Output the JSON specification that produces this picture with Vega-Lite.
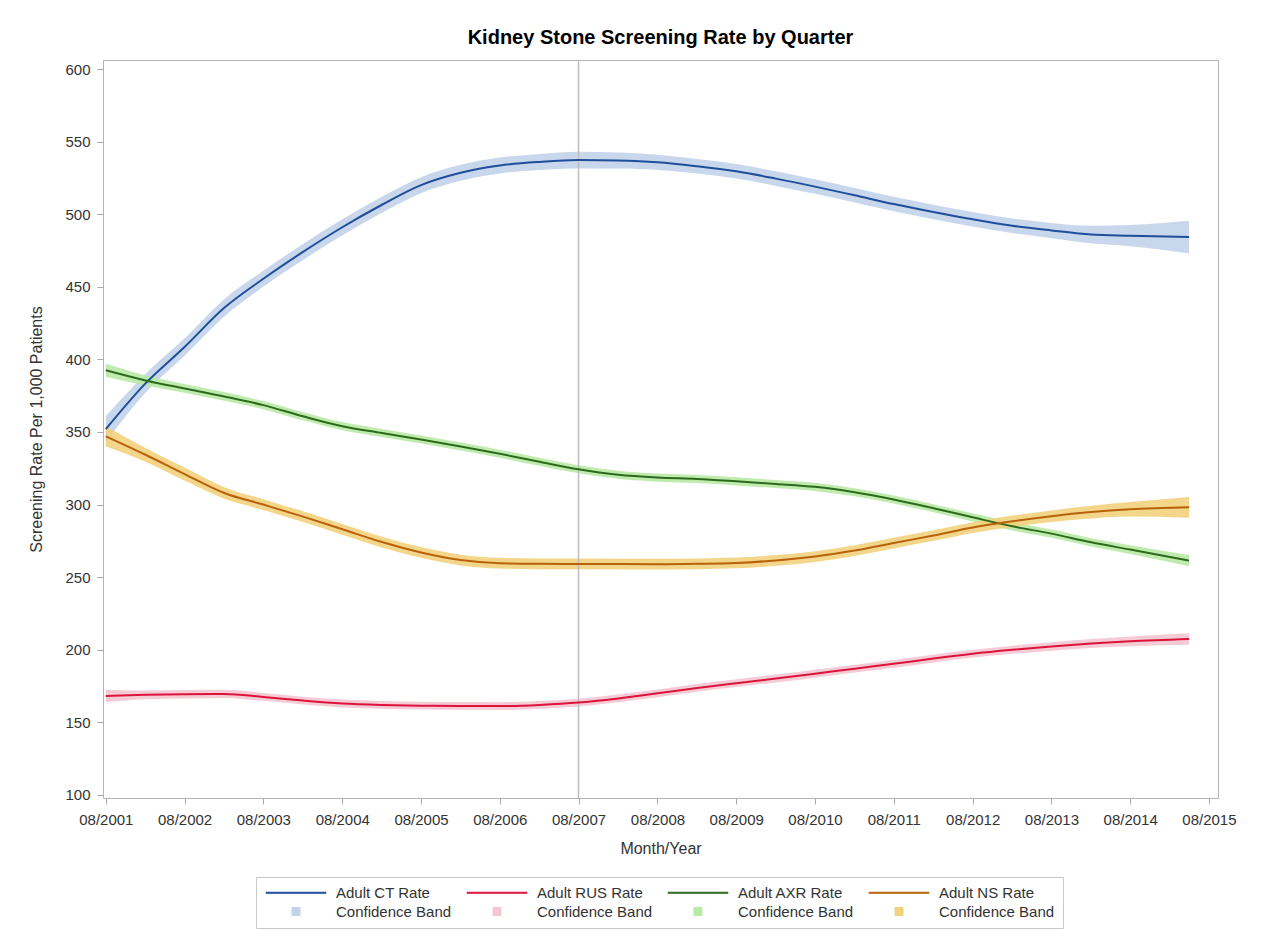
{
  "$schema": "https://vega.github.io/schema/vega-lite/v6.json",
  "width": 1115,
  "height": 738,
  "autosize": {"type": "none"},
  "padding": {"left": 103, "top": 60, "right": 47, "bottom": 144},
  "background": "white",
  "title": {"text": "Kidney Stone Screening Rate by Quarter", "font": "Liberation Sans", "fontSize": 20, "fontWeight": "bold", "color": "#000000", "anchor": "middle", "frame": "group", "baseline": "alphabetic", "offset": -5},
  "datasets": {
    "rates": [
      {"d":"2001-08-01","s":"Adult CT Rate","b":"CB_CT","v":352,"lo":343,"hi":361},
      {"d":"2002-02-01","s":"Adult CT Rate","b":"CB_CT","v":383.5,"lo":377,"hi":390},
      {"d":"2002-08-01","s":"Adult CT Rate","b":"CB_CT","v":408.5,"lo":402.5,"hi":414.5},
      {"d":"2003-02-01","s":"Adult CT Rate","b":"CB_CT","v":435.5,"lo":429.5,"hi":441.5},
      {"d":"2003-08-01","s":"Adult CT Rate","b":"CB_CT","v":455.5,"lo":450,"hi":461},
      {"d":"2004-02-01","s":"Adult CT Rate","b":"CB_CT","v":474,"lo":468.5,"hi":479.5},
      {"d":"2004-08-01","s":"Adult CT Rate","b":"CB_CT","v":491,"lo":485.5,"hi":496.5},
      {"d":"2005-02-01","s":"Adult CT Rate","b":"CB_CT","v":506.5,"lo":501,"hi":512},
      {"d":"2005-08-01","s":"Adult CT Rate","b":"CB_CT","v":520,"lo":514.5,"hi":525.5},
      {"d":"2006-02-01","s":"Adult CT Rate","b":"CB_CT","v":528.5,"lo":523,"hi":534},
      {"d":"2006-08-01","s":"Adult CT Rate","b":"CB_CT","v":533.5,"lo":528,"hi":539},
      {"d":"2007-02-01","s":"Adult CT Rate","b":"CB_CT","v":536,"lo":530.5,"hi":541.5},
      {"d":"2007-08-01","s":"Adult CT Rate","b":"CB_CT","v":537.3,"lo":531.5,"hi":543},
      {"d":"2008-02-01","s":"Adult CT Rate","b":"CB_CT","v":537,"lo":531.5,"hi":542.5},
      {"d":"2008-08-01","s":"Adult CT Rate","b":"CB_CT","v":535.8,"lo":530.5,"hi":541},
      {"d":"2009-02-01","s":"Adult CT Rate","b":"CB_CT","v":533,"lo":528,"hi":538},
      {"d":"2009-08-01","s":"Adult CT Rate","b":"CB_CT","v":529.5,"lo":524.5,"hi":534.5},
      {"d":"2010-02-01","s":"Adult CT Rate","b":"CB_CT","v":524.5,"lo":519.5,"hi":529.5},
      {"d":"2010-08-01","s":"Adult CT Rate","b":"CB_CT","v":519,"lo":514,"hi":524},
      {"d":"2011-02-01","s":"Adult CT Rate","b":"CB_CT","v":513,"lo":508,"hi":518},
      {"d":"2011-08-01","s":"Adult CT Rate","b":"CB_CT","v":507,"lo":502,"hi":512},
      {"d":"2012-02-01","s":"Adult CT Rate","b":"CB_CT","v":501.5,"lo":496.5,"hi":506.5},
      {"d":"2012-08-01","s":"Adult CT Rate","b":"CB_CT","v":496.5,"lo":491.5,"hi":501.5},
      {"d":"2013-02-01","s":"Adult CT Rate","b":"CB_CT","v":492,"lo":487,"hi":497},
      {"d":"2013-08-01","s":"Adult CT Rate","b":"CB_CT","v":488.8,"lo":483.5,"hi":494},
      {"d":"2014-02-01","s":"Adult CT Rate","b":"CB_CT","v":486,"lo":480,"hi":492},
      {"d":"2014-08-01","s":"Adult CT Rate","b":"CB_CT","v":485.2,"lo":478,"hi":492.5},
      {"d":"2015-05-01","s":"Adult CT Rate","b":"CB_CT","v":484.3,"lo":473,"hi":495.5},

      {"d":"2001-08-01","s":"Adult RUS Rate","b":"CB_RUS","v":168.2,"lo":164,"hi":172.5},
      {"d":"2002-02-01","s":"Adult RUS Rate","b":"CB_RUS","v":169,"lo":166,"hi":172},
      {"d":"2002-08-01","s":"Adult RUS Rate","b":"CB_RUS","v":169.4,"lo":166.5,"hi":172.3},
      {"d":"2003-02-01","s":"Adult RUS Rate","b":"CB_RUS","v":169.6,"lo":166.8,"hi":172.4},
      {"d":"2003-08-01","s":"Adult RUS Rate","b":"CB_RUS","v":167.5,"lo":164.8,"hi":170.2},
      {"d":"2004-02-01","s":"Adult RUS Rate","b":"CB_RUS","v":165,"lo":162.3,"hi":167.7},
      {"d":"2004-08-01","s":"Adult RUS Rate","b":"CB_RUS","v":163,"lo":160.3,"hi":165.7},
      {"d":"2005-02-01","s":"Adult RUS Rate","b":"CB_RUS","v":162,"lo":159.3,"hi":164.7},
      {"d":"2005-08-01","s":"Adult RUS Rate","b":"CB_RUS","v":161.5,"lo":158.8,"hi":164.2},
      {"d":"2006-02-01","s":"Adult RUS Rate","b":"CB_RUS","v":161.3,"lo":158.6,"hi":164},
      {"d":"2006-08-01","s":"Adult RUS Rate","b":"CB_RUS","v":161.2,"lo":158.5,"hi":163.9},
      {"d":"2007-02-01","s":"Adult RUS Rate","b":"CB_RUS","v":162,"lo":159.3,"hi":164.7},
      {"d":"2007-08-01","s":"Adult RUS Rate","b":"CB_RUS","v":163.6,"lo":160.9,"hi":166.3},
      {"d":"2008-02-01","s":"Adult RUS Rate","b":"CB_RUS","v":166.5,"lo":163.8,"hi":169.2},
      {"d":"2008-08-01","s":"Adult RUS Rate","b":"CB_RUS","v":170,"lo":167.3,"hi":172.7},
      {"d":"2009-02-01","s":"Adult RUS Rate","b":"CB_RUS","v":173.7,"lo":171,"hi":176.4},
      {"d":"2009-08-01","s":"Adult RUS Rate","b":"CB_RUS","v":177,"lo":174.3,"hi":179.7},
      {"d":"2010-02-01","s":"Adult RUS Rate","b":"CB_RUS","v":180.2,"lo":177.5,"hi":182.9},
      {"d":"2010-08-01","s":"Adult RUS Rate","b":"CB_RUS","v":183.5,"lo":180.8,"hi":186.2},
      {"d":"2011-02-01","s":"Adult RUS Rate","b":"CB_RUS","v":187,"lo":184.3,"hi":189.7},
      {"d":"2011-08-01","s":"Adult RUS Rate","b":"CB_RUS","v":190.3,"lo":187.6,"hi":193},
      {"d":"2012-02-01","s":"Adult RUS Rate","b":"CB_RUS","v":194,"lo":191.3,"hi":196.7},
      {"d":"2012-08-01","s":"Adult RUS Rate","b":"CB_RUS","v":197.3,"lo":194.6,"hi":200},
      {"d":"2013-02-01","s":"Adult RUS Rate","b":"CB_RUS","v":200,"lo":197.2,"hi":202.8},
      {"d":"2013-08-01","s":"Adult RUS Rate","b":"CB_RUS","v":202.3,"lo":199.4,"hi":205.2},
      {"d":"2014-02-01","s":"Adult RUS Rate","b":"CB_RUS","v":204.3,"lo":201.2,"hi":207.4},
      {"d":"2014-08-01","s":"Adult RUS Rate","b":"CB_RUS","v":205.8,"lo":202.4,"hi":209.2},
      {"d":"2015-05-01","s":"Adult RUS Rate","b":"CB_RUS","v":207.4,"lo":203.4,"hi":211.4},

      {"d":"2001-08-01","s":"Adult AXR Rate","b":"CB_AXR","v":392.5,"lo":388,"hi":397},
      {"d":"2002-02-01","s":"Adult AXR Rate","b":"CB_AXR","v":385.5,"lo":382,"hi":389},
      {"d":"2002-08-01","s":"Adult AXR Rate","b":"CB_AXR","v":380,"lo":377,"hi":383},
      {"d":"2003-02-01","s":"Adult AXR Rate","b":"CB_AXR","v":374.5,"lo":371.5,"hi":377.5},
      {"d":"2003-08-01","s":"Adult AXR Rate","b":"CB_AXR","v":368.5,"lo":365.7,"hi":371.3},
      {"d":"2004-02-01","s":"Adult AXR Rate","b":"CB_AXR","v":360.8,"lo":358,"hi":363.6},
      {"d":"2004-08-01","s":"Adult AXR Rate","b":"CB_AXR","v":354,"lo":351.2,"hi":356.8},
      {"d":"2005-02-01","s":"Adult AXR Rate","b":"CB_AXR","v":349.3,"lo":346.5,"hi":352.1},
      {"d":"2005-08-01","s":"Adult AXR Rate","b":"CB_AXR","v":344.8,"lo":342,"hi":347.6},
      {"d":"2006-02-01","s":"Adult AXR Rate","b":"CB_AXR","v":340,"lo":337.2,"hi":342.8},
      {"d":"2006-08-01","s":"Adult AXR Rate","b":"CB_AXR","v":335,"lo":332.2,"hi":337.8},
      {"d":"2007-02-01","s":"Adult AXR Rate","b":"CB_AXR","v":329.5,"lo":326.7,"hi":332.3},
      {"d":"2007-08-01","s":"Adult AXR Rate","b":"CB_AXR","v":324.3,"lo":321.5,"hi":327.1},
      {"d":"2008-02-01","s":"Adult AXR Rate","b":"CB_AXR","v":320.5,"lo":317.7,"hi":323.3},
      {"d":"2008-08-01","s":"Adult AXR Rate","b":"CB_AXR","v":318.6,"lo":315.8,"hi":321.4},
      {"d":"2009-02-01","s":"Adult AXR Rate","b":"CB_AXR","v":317.6,"lo":314.8,"hi":320.4},
      {"d":"2009-08-01","s":"Adult AXR Rate","b":"CB_AXR","v":316,"lo":313.2,"hi":318.8},
      {"d":"2010-02-01","s":"Adult AXR Rate","b":"CB_AXR","v":314.2,"lo":311.4,"hi":317},
      {"d":"2010-08-01","s":"Adult AXR Rate","b":"CB_AXR","v":312.2,"lo":309.4,"hi":315},
      {"d":"2011-02-01","s":"Adult AXR Rate","b":"CB_AXR","v":308.5,"lo":305.7,"hi":311.3},
      {"d":"2011-08-01","s":"Adult AXR Rate","b":"CB_AXR","v":303.5,"lo":300.7,"hi":306.3},
      {"d":"2012-02-01","s":"Adult AXR Rate","b":"CB_AXR","v":297.5,"lo":294.7,"hi":300.3},
      {"d":"2012-08-01","s":"Adult AXR Rate","b":"CB_AXR","v":291.2,"lo":288.4,"hi":294},
      {"d":"2013-02-01","s":"Adult AXR Rate","b":"CB_AXR","v":285,"lo":282.2,"hi":287.8},
      {"d":"2013-08-01","s":"Adult AXR Rate","b":"CB_AXR","v":280,"lo":277.2,"hi":282.8},
      {"d":"2014-02-01","s":"Adult AXR Rate","b":"CB_AXR","v":274,"lo":271.2,"hi":276.8},
      {"d":"2014-08-01","s":"Adult AXR Rate","b":"CB_AXR","v":269,"lo":266,"hi":272},
      {"d":"2015-05-01","s":"Adult AXR Rate","b":"CB_AXR","v":261.4,"lo":257.6,"hi":265.2},

      {"d":"2001-08-01","s":"Adult NS Rate","b":"CB_NS","v":347,"lo":340,"hi":354},
      {"d":"2002-02-01","s":"Adult NS Rate","b":"CB_NS","v":334.3,"lo":329.5,"hi":339},
      {"d":"2002-08-01","s":"Adult NS Rate","b":"CB_NS","v":321,"lo":316.5,"hi":325.5},
      {"d":"2003-02-01","s":"Adult NS Rate","b":"CB_NS","v":308,"lo":304,"hi":312},
      {"d":"2003-08-01","s":"Adult NS Rate","b":"CB_NS","v":300,"lo":296.3,"hi":303.7},
      {"d":"2004-02-01","s":"Adult NS Rate","b":"CB_NS","v":291.7,"lo":288,"hi":295.4},
      {"d":"2004-08-01","s":"Adult NS Rate","b":"CB_NS","v":283,"lo":279.3,"hi":286.7},
      {"d":"2005-02-01","s":"Adult NS Rate","b":"CB_NS","v":274.2,"lo":270.5,"hi":277.9},
      {"d":"2005-08-01","s":"Adult NS Rate","b":"CB_NS","v":267,"lo":263.3,"hi":270.7},
      {"d":"2006-02-01","s":"Adult NS Rate","b":"CB_NS","v":261.8,"lo":258.1,"hi":265.5},
      {"d":"2006-08-01","s":"Adult NS Rate","b":"CB_NS","v":259.6,"lo":255.9,"hi":263.3},
      {"d":"2007-02-01","s":"Adult NS Rate","b":"CB_NS","v":259.2,"lo":255.5,"hi":262.9},
      {"d":"2007-08-01","s":"Adult NS Rate","b":"CB_NS","v":259.1,"lo":255.4,"hi":262.8},
      {"d":"2008-02-01","s":"Adult NS Rate","b":"CB_NS","v":259,"lo":255.3,"hi":262.7},
      {"d":"2008-08-01","s":"Adult NS Rate","b":"CB_NS","v":258.9,"lo":255.2,"hi":262.6},
      {"d":"2009-02-01","s":"Adult NS Rate","b":"CB_NS","v":259.2,"lo":255.5,"hi":262.9},
      {"d":"2009-08-01","s":"Adult NS Rate","b":"CB_NS","v":259.8,"lo":256.1,"hi":263.5},
      {"d":"2010-02-01","s":"Adult NS Rate","b":"CB_NS","v":261.5,"lo":257.8,"hi":265.2},
      {"d":"2010-08-01","s":"Adult NS Rate","b":"CB_NS","v":264.2,"lo":260.5,"hi":267.9},
      {"d":"2011-02-01","s":"Adult NS Rate","b":"CB_NS","v":268.3,"lo":264.6,"hi":272},
      {"d":"2011-08-01","s":"Adult NS Rate","b":"CB_NS","v":273.5,"lo":269.8,"hi":277.2},
      {"d":"2012-02-01","s":"Adult NS Rate","b":"CB_NS","v":278.7,"lo":275,"hi":282.4},
      {"d":"2012-08-01","s":"Adult NS Rate","b":"CB_NS","v":284.2,"lo":280.5,"hi":287.9},
      {"d":"2013-02-01","s":"Adult NS Rate","b":"CB_NS","v":288.5,"lo":284.6,"hi":292.4},
      {"d":"2013-08-01","s":"Adult NS Rate","b":"CB_NS","v":292,"lo":288,"hi":296},
      {"d":"2014-02-01","s":"Adult NS Rate","b":"CB_NS","v":294.8,"lo":290.4,"hi":299.2},
      {"d":"2014-08-01","s":"Adult NS Rate","b":"CB_NS","v":296.7,"lo":291.7,"hi":301.7},
      {"d":"2015-05-01","s":"Adult NS Rate","b":"CB_NS","v":298.1,"lo":291,"hi":305.2}
    ],
    "marker": [{"d": "2007-08-01"}]
  },
  "encoding": {
    "x": {
      "field": "d", "type": "temporal",
      "scale": {"type": "utc", "domain": [{"year": 2001, "month": 7, "date": 19, "utc": true}, {"year": 2015, "month": 9, "date": 12, "utc": true}]},
      "axis": {
        "title": "Month/Year", "format": "%m/%Y", "labelPadding": 8, "titlePadding": 13,
        "values": [
          {"year": 2001, "month": 8, "date": 1, "utc": true}, {"year": 2002, "month": 8, "date": 1, "utc": true},
          {"year": 2003, "month": 8, "date": 1, "utc": true}, {"year": 2004, "month": 8, "date": 1, "utc": true},
          {"year": 2005, "month": 8, "date": 1, "utc": true}, {"year": 2006, "month": 8, "date": 1, "utc": true},
          {"year": 2007, "month": 8, "date": 1, "utc": true}, {"year": 2008, "month": 8, "date": 1, "utc": true},
          {"year": 2009, "month": 8, "date": 1, "utc": true}, {"year": 2010, "month": 8, "date": 1, "utc": true},
          {"year": 2011, "month": 8, "date": 1, "utc": true}, {"year": 2012, "month": 8, "date": 1, "utc": true},
          {"year": 2013, "month": 8, "date": 1, "utc": true}, {"year": 2014, "month": 8, "date": 1, "utc": true},
          {"year": 2015, "month": 8, "date": 1, "utc": true}
        ]
      }
    }
  },
  "layer": [
    {
      "data": {"name": "rates"},
      "mark": {"type": "area", "opacity": 0.9, "interpolate": "monotone"},
      "encoding": {
        "y": {
          "field": "lo", "type": "quantitative",
          "scale": {"domain": [97.9, 606.2], "nice": false, "zero": false},
          "axis": {"title": "Screening Rate Per 1,000 Patients", "values": [100, 150, 200, 250, 300, 350, 400, 450, 500, 550, 600], "labelPadding": 7, "titlePadding": 20}
        },
        "y2": {"field": "hi"},
        "color": {
          "field": "b", "type": "nominal",
          "scale": {
            "domain": ["Adult CT Rate", "Adult RUS Rate", "Adult AXR Rate", "Adult NS Rate", "CB_CT", "CB_RUS", "CB_AXR", "CB_NS"],
            "range": ["#1f4e9a", "#dc143c", "#2c6b1c", "#b9620c", "#c3d3ea", "#f4c7d1", "#b8eaa5", "#f2d27d"]
          },
          "legend": {
            "title": null, "orient": "none", "legendX": 153, "legendY": 817, "direction": "horizontal", "columns": 4,
            "labelExpr": "indexof(datum.label, 'CB_') === 0 ? 'Confidence Band' : datum.label",
            "symbolSize": 64, "labelOffset": 57, "columnPadding": 13, "rowPadding": 3, "padding": 8,
            "strokeColor": "#c8c8c8",
            "encoding": {"symbols": {
              "shape": {"value": {"expr": "indexof(datum.value, 'CB_') === 0 ? 'M5.125,-1H7.125V1H5.125Z' : 'M-1.375,-0.125H13.625V0.125H-1.375Z'"}},
              "fill": {"value": {"expr": "datum.value === 'Adult CT Rate' ? '#1f4e9a' : datum.value === 'Adult RUS Rate' ? '#dc143c' : datum.value === 'Adult AXR Rate' ? '#3b7d2a' : datum.value === 'Adult NS Rate' ? '#d47a1e' : datum.value === 'CB_CT' ? '#c3d3ea' : datum.value === 'CB_RUS' ? '#f4c7d1' : datum.value === 'CB_AXR' ? '#b8eaa5' : '#f2d27d'"}},
              "stroke": {"value": {"expr": "datum.value === 'Adult CT Rate' ? '#1f4e9a' : datum.value === 'Adult RUS Rate' ? '#dc143c' : datum.value === 'Adult AXR Rate' ? '#3b7d2a' : datum.value === 'Adult NS Rate' ? '#d47a1e' : '#444444'"}},
              "strokeWidth": {"value": 1},
              "opacity": {"value": 1},
              "fillOpacity": {"value": 1},
              "strokeOpacity": {"value": 1}
            }}
          }
        }
      }
    },
    {
      "data": {"name": "marker"},
      "mark": {"type": "rule", "color": "#bdbdbd", "strokeWidth": 1.5},
      "encoding": {}
    },
    {
      "data": {"name": "rates"},
      "mark": {"type": "line", "strokeWidth": 2, "interpolate": "monotone"},
      "encoding": {
        "y": {
          "field": "v", "type": "quantitative",
          "scale": {"domain": [97.9, 606.2], "nice": false, "zero": false},
          "axis": {"title": "Screening Rate Per 1,000 Patients", "values": [100, 150, 200, 250, 300, 350, 400, 450, 500, 550, 600], "labelPadding": 7, "titlePadding": 20}
        },
        "color": {
          "field": "s", "type": "nominal",
          "scale": {
            "domain": ["Adult CT Rate", "Adult RUS Rate", "Adult AXR Rate", "Adult NS Rate", "CB_CT", "CB_RUS", "CB_AXR", "CB_NS"],
            "range": ["#1f4e9a", "#dc143c", "#2c6b1c", "#b9620c", "#c3d3ea", "#f4c7d1", "#b8eaa5", "#f2d27d"]
          },
          "legend": {
            "title": null, "orient": "none", "legendX": 153, "legendY": 817, "direction": "horizontal", "columns": 4,
            "labelExpr": "indexof(datum.label, 'CB_') === 0 ? 'Confidence Band' : datum.label",
            "symbolSize": 64, "labelOffset": 57, "columnPadding": 13, "rowPadding": 3, "padding": 8,
            "strokeColor": "#c8c8c8",
            "encoding": {"symbols": {
              "shape": {"value": {"expr": "indexof(datum.value, 'CB_') === 0 ? 'M5.125,-1H7.125V1H5.125Z' : 'M-1.375,-0.125H13.625V0.125H-1.375Z'"}},
              "fill": {"value": {"expr": "datum.value === 'Adult CT Rate' ? '#1f4e9a' : datum.value === 'Adult RUS Rate' ? '#dc143c' : datum.value === 'Adult AXR Rate' ? '#3b7d2a' : datum.value === 'Adult NS Rate' ? '#d47a1e' : datum.value === 'CB_CT' ? '#c3d3ea' : datum.value === 'CB_RUS' ? '#f4c7d1' : datum.value === 'CB_AXR' ? '#b8eaa5' : '#f2d27d'"}},
              "stroke": {"value": {"expr": "datum.value === 'Adult CT Rate' ? '#1f4e9a' : datum.value === 'Adult RUS Rate' ? '#dc143c' : datum.value === 'Adult AXR Rate' ? '#3b7d2a' : datum.value === 'Adult NS Rate' ? '#d47a1e' : '#444444'"}},
              "strokeWidth": {"value": 1},
              "opacity": {"value": 1},
              "fillOpacity": {"value": 1},
              "strokeOpacity": {"value": 1}
            }}
          }
        }
      }
    }
  ],
  "config": {
    "view": {"stroke": "#b4b4b4", "strokeWidth": 1},
    "axis": {
      "domain": false, "grid": false, "tickColor": "#a8a8a8", "tickSize": 6,
      "labelFont": "Liberation Sans", "labelFontSize": 15, "labelColor": "#333333",
      "titleFont": "Liberation Sans", "titleFontSize": 16, "titleFontWeight": "normal", "titleColor": "#333333"
    },
    "legend": {"labelFont": "Liberation Sans", "labelFontSize": 15, "labelColor": "#333333"}
  }
}
